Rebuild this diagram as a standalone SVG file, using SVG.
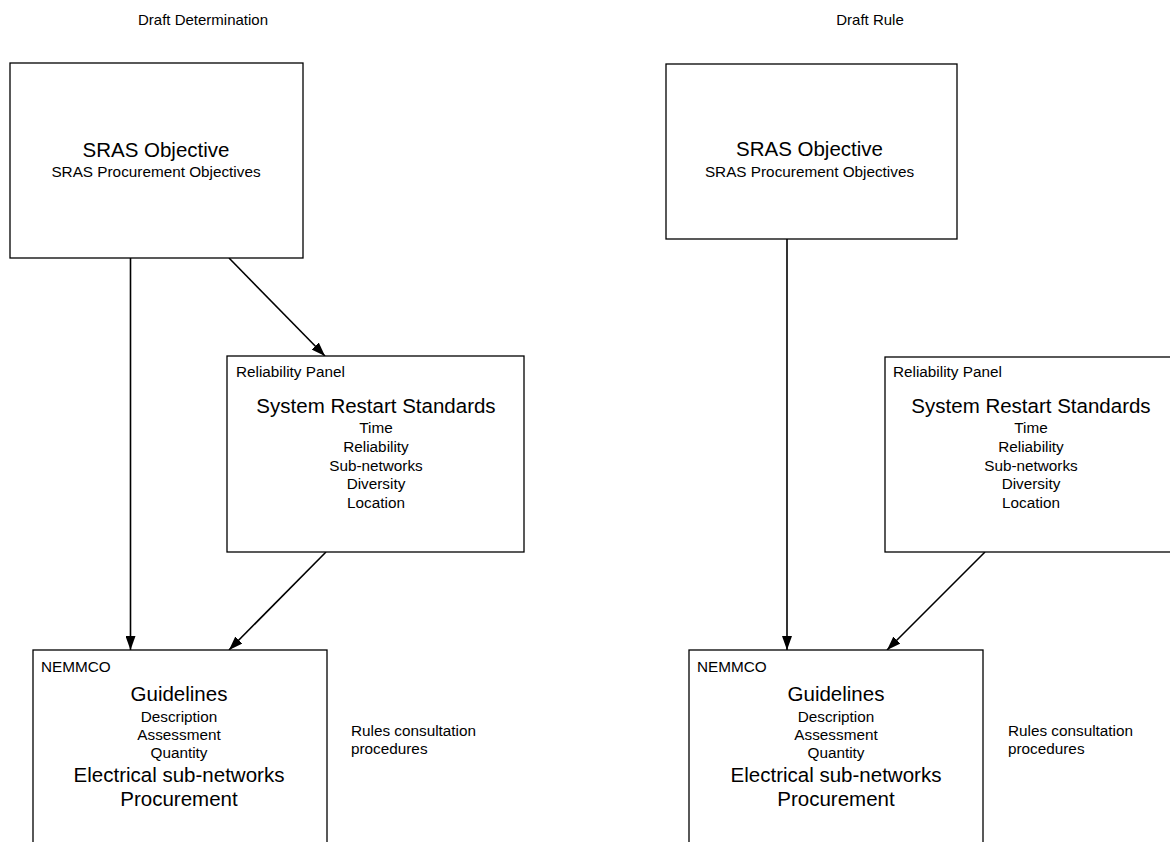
<svg xmlns="http://www.w3.org/2000/svg" width="1170" height="842" viewBox="0 0 1170 842">
<defs>
<style>
text{font-family:"Liberation Sans",Arial,sans-serif;fill:#000}
.big{font-size:20.5px}
.sm{font-size:15.3px}
.title{font-size:15px}
.c{text-anchor:middle}
.box{fill:#fff;stroke:#000;stroke-width:1.3}
.conn{stroke:#000;stroke-width:1.6;fill:none;marker-end:url(#ah)}
</style>
<marker id="ah" viewBox="0 0 14 10" refX="14" refY="5" markerWidth="14" markerHeight="10" markerUnits="userSpaceOnUse" orient="auto">
<path d="M0,0 L14,5 L0,10 Z" fill="#000"/>
</marker>
</defs>
<rect width="1170" height="842" fill="#fff"/>

<text class="title c" x="203" y="25">Draft Determination</text>
<text class="title c" x="870" y="25">Draft Rule</text>

<g id="connectors">
<line class="conn" x1="130.5" y1="258" x2="130.5" y2="650"/>
<line class="conn" x1="229" y1="258" x2="325" y2="356"/>
<line class="conn" x1="326" y1="552" x2="229" y2="650"/>
<line class="conn" x1="787" y1="239" x2="787" y2="650"/>
<line class="conn" x1="985" y1="552" x2="887" y2="650"/>
</g>

<g id="left-sras">
<rect class="box" x="10" y="63" width="293" height="195"/>
<text class="big c" x="156" y="157">SRAS Objective</text>
<text class="sm c" x="156" y="177">SRAS Procurement Objectives</text>
</g>

<g id="left-panel">
<rect class="box" x="227" y="356" width="297" height="196"/>
<text class="sm" x="236" y="377">Reliability Panel</text>
<text class="big c" x="376" y="413">System Restart Standards</text>
<text class="sm c" x="376" y="433">Time</text>
<text class="sm c" x="376" y="452">Reliability</text>
<text class="sm c" x="376" y="471">Sub-networks</text>
<text class="sm c" x="376" y="489">Diversity</text>
<text class="sm c" x="376" y="508">Location</text>
</g>

<g id="left-nemmco">
<rect class="box" x="33" y="650" width="294" height="200"/>
<text class="sm" x="41" y="672">NEMMCO</text>
<text class="big c" x="179" y="701">Guidelines</text>
<text class="sm c" x="179" y="722">Description</text>
<text class="sm c" x="179" y="740">Assessment</text>
<text class="sm c" x="179" y="758">Quantity</text>
<text class="big c" x="179" y="782">Electrical sub-networks</text>
<text class="big c" x="179" y="806">Procurement</text>
</g>

<g id="left-rules">
<text class="sm" x="351" y="736">Rules consultation</text>
<text class="sm" x="351" y="754">procedures</text>
</g>

<g id="right-sras">
<rect class="box" x="666" y="64" width="291" height="175"/>
<text class="big c" x="809.5" y="156">SRAS Objective</text>
<text class="sm c" x="809.5" y="177">SRAS Procurement Objectives</text>
</g>

<g id="right-panel">
<rect class="box" x="885" y="357" width="297" height="195"/>
<text class="sm" x="893" y="377">Reliability Panel</text>
<text class="big c" x="1031" y="413">System Restart Standards</text>
<text class="sm c" x="1031" y="433">Time</text>
<text class="sm c" x="1031" y="452">Reliability</text>
<text class="sm c" x="1031" y="471">Sub-networks</text>
<text class="sm c" x="1031" y="489">Diversity</text>
<text class="sm c" x="1031" y="508">Location</text>
</g>

<g id="right-nemmco">
<rect class="box" x="689" y="650" width="294" height="200"/>
<text class="sm" x="697" y="672">NEMMCO</text>
<text class="big c" x="836" y="701">Guidelines</text>
<text class="sm c" x="836" y="722">Description</text>
<text class="sm c" x="836" y="740">Assessment</text>
<text class="sm c" x="836" y="758">Quantity</text>
<text class="big c" x="836" y="782">Electrical sub-networks</text>
<text class="big c" x="836" y="806">Procurement</text>
</g>

<g id="right-rules">
<text class="sm" x="1008" y="736">Rules consultation</text>
<text class="sm" x="1008" y="754">procedures</text>
</g>
</svg>
